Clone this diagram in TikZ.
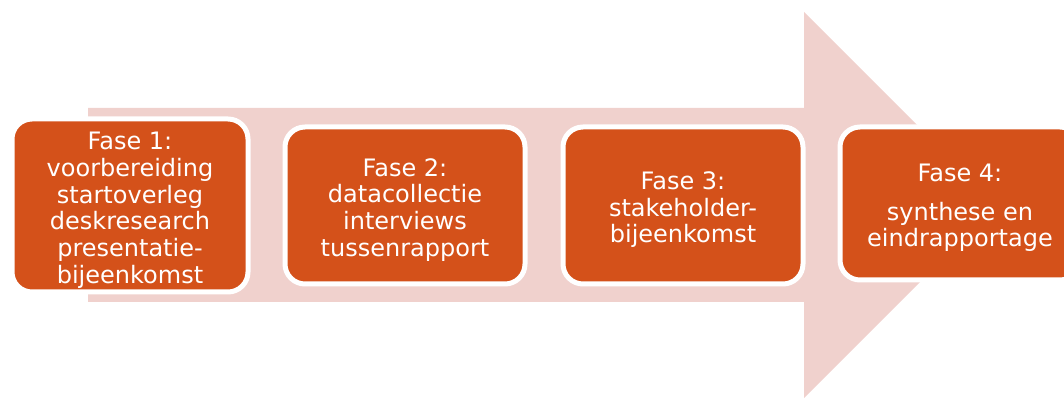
\documentclass[tikz,border=0pt]{standalone}
\usepackage{fontspec}
\setmainfont{DejaVu Sans}
\definecolor{arrowpink}{HTML}{F0D1CD}
\definecolor{phaseorange}{HTML}{D4511A}
\newcommand{\phasestrut}{\rule{0pt}{20pt}}
\tikzset{
  phasebox/.style={rectangle, rounded corners=15pt, fill=phaseorange, draw=white,
    line width=3.75pt, text=white, align=center, inner sep=0pt,
    font=\fontsize{18pt}{20pt}\selectfont},
}
\begin{document}
\begin{tikzpicture}[x=0.75pt,y=-0.75pt]
\useasboundingbox (0,0) rectangle (1064,398);
\fill[arrowpink] (88,108) -- (804,108) -- (804,12) -- (997,205) -- (804,398) -- (804,302) -- (88,302) -- cycle;
\node[phasebox, minimum width=177pt, minimum height=129.75pt] (f1) at (130,205.5)
  {\phasestrut Fase 1:\\voorbereiding\\startoverleg\\deskresearch\\presentatie-\\bijeenkomst};
\node[phasebox, minimum width=180pt, minimum height=117.75pt] (f2) at (405,205.5)
  {\phasestrut Fase 2:\\datacollectie\\interviews\\tussenrapport};
\node[phasebox, minimum width=180pt, minimum height=117.75pt] (f3) at (683,205.5)
  {\phasestrut Fase 3:\\stakeholder-\\bijeenkomst};
\node[phasebox, minimum width=180pt, minimum height=114.75pt] (f4) at (960,203.5)
  {\phasestrut Fase 4:\\[9pt]synthese en\\eindrapportage};
\end{tikzpicture}
\end{document}
